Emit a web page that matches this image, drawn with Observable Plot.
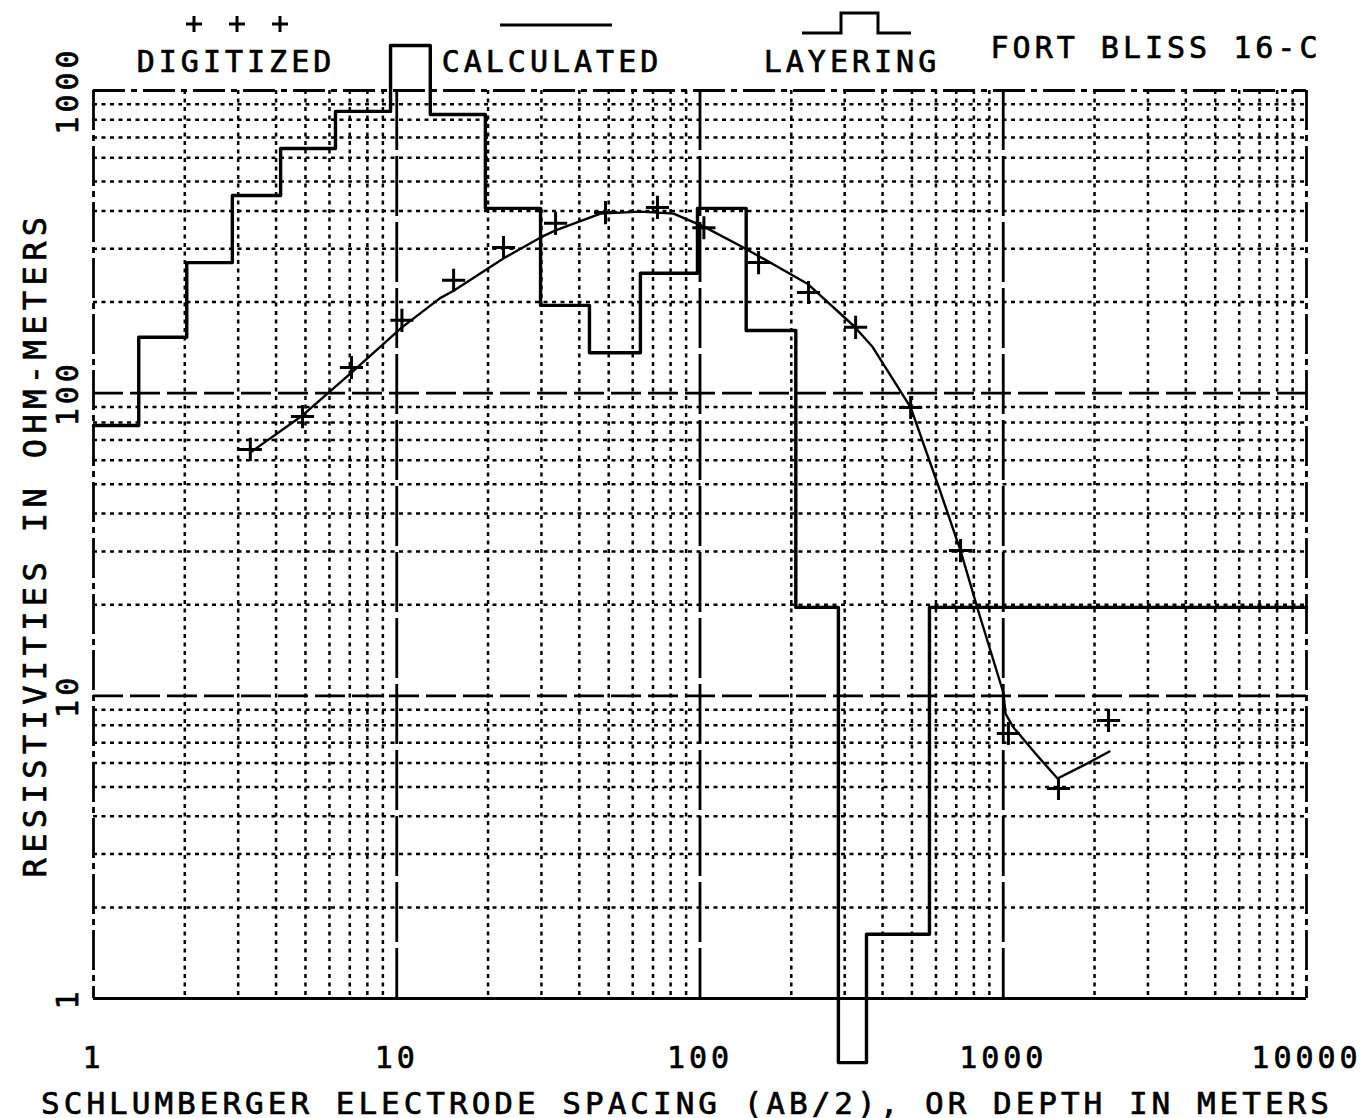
<!DOCTYPE html>
<html><head><meta charset="utf-8">
<script src="https://cdn.jsdelivr.net/npm/d3@7"></script>
<script src="https://cdn.jsdelivr.net/npm/@observablehq/plot@0.6"></script>
<style>
body{margin:0;background:#fff;}
#wrap{position:relative;width:1363px;height:1118px;background:#fff;}
#wrap svg{position:absolute;left:0;top:0;}
</style></head><body><div id="wrap"></div>
<script>
// Layering model: depth where each layer starts (m) and its resistivity (ohm-m)
const layerDepth = [1, 1.41, 2.03, 2.87, 4.14, 6.28, 9.54, 12.9, 19.6, 29.8, 43.2, 63.6, 98.1, 142, 207, 286, 354, 571, 10000];
const layerRho   = [78.2, 153, 270, 450, 643, 853, 1408, 833, 408, 195, 136, 249, 408, 161, 19.6, 0.614, 1.63, 19.6, 19.6];

// Digitized field sounding (AB/2 in m, apparent resistivity)
const digSpacing = [3.29, 4.89, 7.09, 10.4, 15.4, 22.5, 33.4, 48.8, 72.4, 103, 156, 228, 326, 495, 723, 1040, 1521, 2224];
const digRho     = [65.2, 83.7, 121.6, 174, 236, 303, 364, 395, 411, 352, 270, 215, 165, 89.7, 30.2, 7.51, 4.94, 8.29];

// Calculated curve
const calcSpacing = [3.29, 4.89, 7.09, 10.4, 13.9, 15.4, 22.8, 29.8, 33.4, 47.0, 63.6, 81.8, 103, 139, 226, 321, 371, 495, 607, 723, 823, 1002, 1017, 1081, 1277, 1510, 1840, 2240];
const calcRho     = [63.7, 84.4, 117, 165, 206, 218, 281, 327, 345, 392, 398, 392, 355, 303, 230, 167, 142, 89.7, 50.3, 30.2, 19.4, 10.2, 8.74, 7.86, 6.45, 5.33, 5.89, 6.55];

// Ticks
const xTickValues = [1, 10, 100, 1000, 10000];
const xTickLabels = ["1", "10", "100", "1000", "10000"];
const yTickValues = [1, 10, 100, 1000];
const yTickLabels = ["1", "10", "100", "1000"];
const gridSteps = [2, 3, 4, 5, 6, 7, 8, 9];
const xDecades = [1, 10, 100, 1000];
const yDecades = [1, 10, 100];

const xTitle = "SCHLUMBERGER ELECTRODE SPACING (AB/2), OR DEPTH IN METERS";
const yTitle = "RESISTIVITIES IN OHM-METERS";
const legendLabels = ["DIGITIZED", "CALCULATED", "LAYERING"];
const siteTitle = "FORT BLISS 16-C";

const layers = layerDepth.map((x, i) => ({x, y: layerRho[i]}));
const dig = digSpacing.map((x, i) => ({x, y: digRho[i]}));
const calc = calcSpacing.map((x, i) => ({x, y: calcRho[i]}));
const xMinor = xDecades.flatMap(d => gridSteps.map(k => d * k));
const yMinor = yDecades.flatMap(d => gridSteps.map(k => d * k));
const xTicks = xTickValues.map((v, i) => ({v, t: xTickLabels[i]}));
const yTicks = yTickValues.map((v, i) => ({v, t: yTickLabels[i]}));

const FONT = "DejaVu Sans Mono";
const txt = {fill: "#000", stroke: "#000", strokeWidth: 0.7};
const plot = Plot.plot({
  width: 1363, height: 1118,
  marginLeft: 93, marginRight: 57, marginTop: 90, marginBottom: 120,
  x: {type: "log", domain: [1, 10000], axis: null},
  y: {type: "log", domain: [1, 1000], axis: null},
  style: {fontFamily: FONT, background: "transparent", overflow: "visible", letterSpacing: "4px"},
  marks: [
    Plot.ruleX(xMinor, {stroke: "#000", strokeWidth: 2.5, strokeDasharray: "4,4.5"}),
    Plot.ruleY(yMinor, {stroke: "#000", strokeWidth: 2.5, strokeDasharray: "4,4.5"}),
    Plot.ruleX([10, 100, 1000], {stroke: "#000", strokeWidth: 2.8, strokeDasharray: "60,6"}),
    Plot.ruleY([10, 100], {stroke: "#000", strokeWidth: 2.8, strokeDasharray: "30,7"}),
    Plot.ruleY([1000], {stroke: "#000", strokeWidth: 2.8, strokeDasharray: "32,6,6,6"}),
    Plot.ruleX([1, 10000], {stroke: "#000", strokeWidth: 2.8, strokeDasharray: "40,5,6,5"}),
    Plot.ruleY([1], {stroke: "#000", strokeWidth: 2.8}),
    Plot.line(layers, {x: "x", y: "y", curve: "step-after", stroke: "#000", strokeWidth: 3.4}),
    Plot.line(calc, {x: "x", y: "y", curve: "linear", stroke: "#000", strokeWidth: 2.4, strokeLinejoin: "round"}),
    Plot.dot(dig, {x: "x", y: "y", symbol: "plus", r: 7.5, stroke: "#000", strokeWidth: 3}),
    Plot.text(xTicks, {x: "v", text: "t", frameAnchor: "bottom", dy: 48, lineAnchor: "top", fontSize: 30, ...txt}),
    Plot.text(yTicks, {y: "v", text: "t", frameAnchor: "left", dx: -16, rotate: -90, textAnchor: "middle", lineAnchor: "bottom", fontSize: 30, ...txt}),
    Plot.text([xTitle], {text: d => d, frameAnchor: "bottom", dx: -13, dy: 115, lineAnchor: "bottom", fontSize: 31, ...txt}),
    Plot.text([yTitle], {text: d => d, frameAnchor: "left", dx: -48, dy: 0, rotate: -90, textAnchor: "middle", lineAnchor: "bottom", fontSize: 32, ...txt})
  ]
});
document.getElementById("wrap").appendChild(plot);
// wider tracking for the vertical axis title
d3.select(plot).selectAll("text").filter(function() { return this.textContent === yTitle; }).style("letter-spacing", "5.4px");

// Legend header overlay
const svg = d3.select("#wrap").append("svg")
  .attr("width", 1363).attr("height", 90)
  .style("font-family", FONT).style("letter-spacing", "4px");
const g = svg.append("g").attr("stroke", "#000").attr("fill", "none").attr("stroke-width", 3);
[194, 237, 280].forEach(cx => {
  g.append("path").attr("d", `M${cx-8},24H${cx+8}M${cx},16V32`);
});
g.append("path").attr("d", "M500,25H612");
g.append("path").attr("d", "M802,33H841V13H878V33H911");
const legendX = [236, 552, 852];
legendLabels.forEach((t, i) => {
  svg.append("text").attr("x", legendX[i]).attr("y", 72).attr("text-anchor", "middle")
    .attr("font-size", 30).attr("fill", "#000").attr("stroke", "#000").attr("stroke-width", 0.7).text(t);
});
svg.append("text").attr("x", 1156).attr("y", 58).attr("text-anchor", "middle")
  .attr("font-size", 30).attr("fill", "#000").attr("stroke", "#000").attr("stroke-width", 0.7).text(siteTitle);
</script></body></html>
